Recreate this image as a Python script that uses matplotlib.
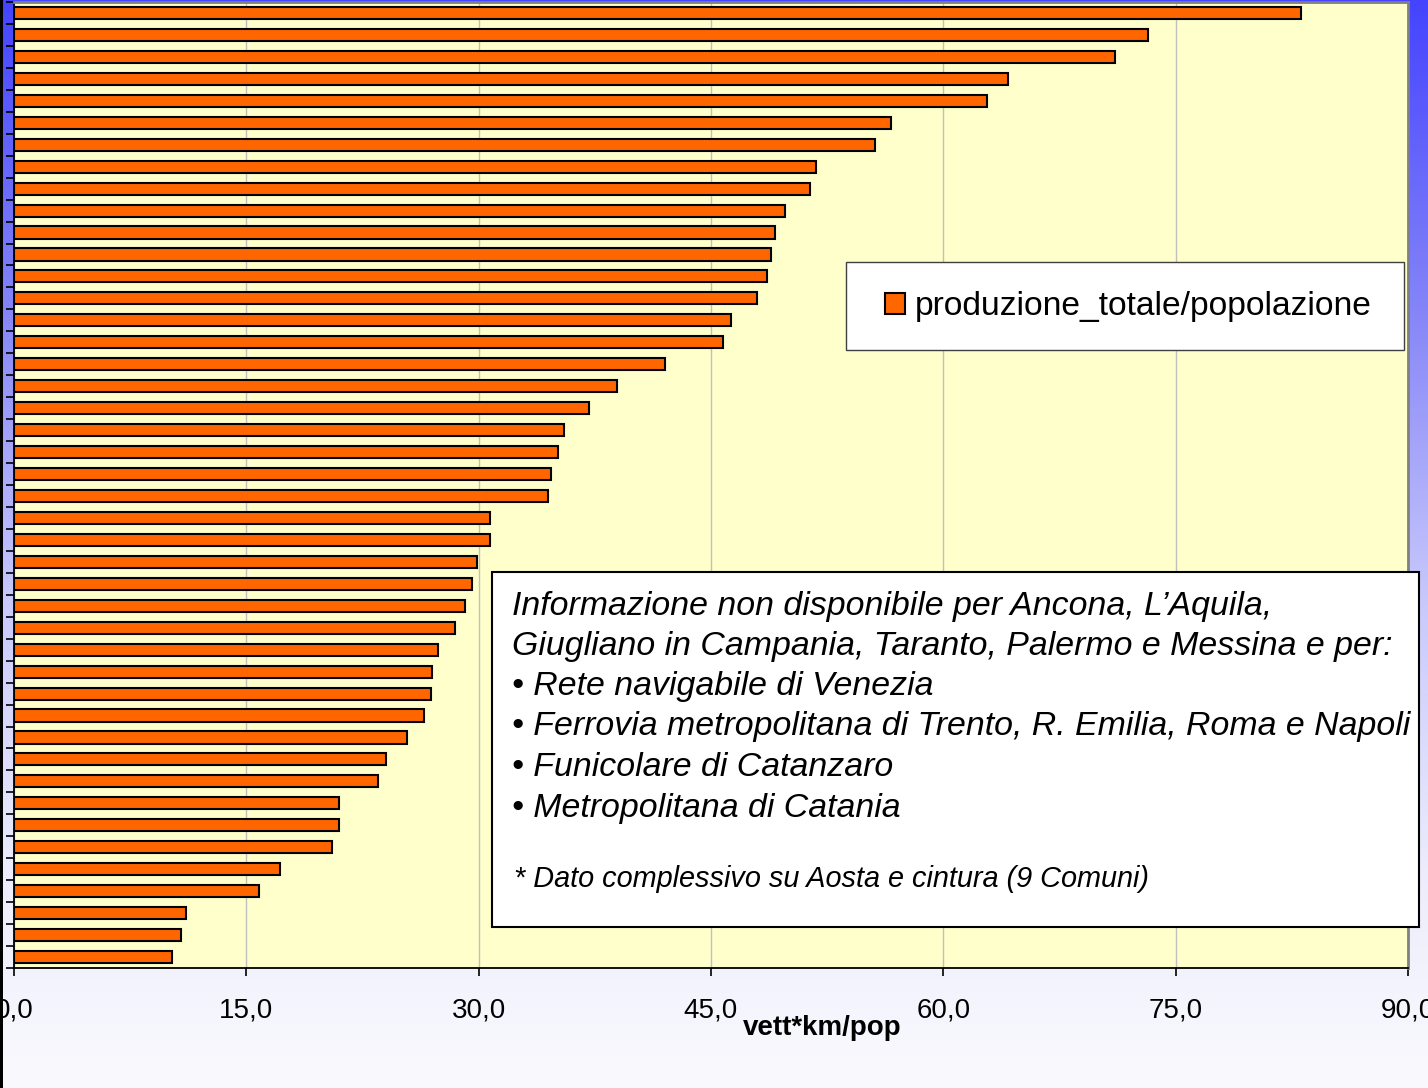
import numpy as np
import matplotlib
matplotlib.use('Agg')
import matplotlib.pyplot as plt
from matplotlib.patches import Rectangle

plt.rcParams['font.family'] = ['Liberation Sans', 'DejaVu Sans']

# Data: one bar per city (names are cut off in the reference), sorted descending
cities = [f"città {i + 1}" for i in range(44)]
values = [83.1, 73.2, 71.1, 64.2, 62.8, 56.6, 55.6, 51.8, 51.4, 49.8,
          49.1, 48.9, 48.6, 48.0, 46.3, 45.8, 42.0, 38.9, 37.1, 35.5,
          35.1, 34.7, 34.5, 30.7, 30.7, 29.9, 29.6, 29.1, 28.5, 27.4,
          27.0, 26.9, 26.5, 25.4, 24.0, 23.5, 21.0, 21.0, 20.5, 17.2,
          15.8, 11.1, 10.8, 10.2]
series_name = 'produzione_totale/popolazione'
xticks = [0, 15, 30, 45, 60, 75, 90]
xticklabels = [f"{t:.1f}".replace('.', ',') for t in xticks]

note_lines = [
    "Informazione non disponibile per Ancona, L\u2019Aquila,",
    "Giugliano in Campania, Taranto, Palermo e Messina e per:",
    "\u2022 Rete navigabile di Venezia",
    "\u2022 Ferrovia metropolitana di Trento, R. Emilia, Roma e Napoli",
    "\u2022 Funicolare di Catanzaro",
    "\u2022 Metropolitana di Catania",
]
footnote = "* Dato complessivo su Aosta e cintura (9 Comuni)"

W, H = 1428, 1088
fig = plt.figure(figsize=(W / 100, H / 100), dpi=100)

# slide background: blue-to-white vertical gradient
stops = np.array([0.0, 0.28, 0.55, 0.8, 1.0])
cols = np.array([[0x44, 0x44, 0xFF], [0x84, 0x84, 0xF8], [0xC8, 0xC8, 0xFC],
                 [0xEC, 0xEC, 0xFC], [0xFA, 0xFA, 0xFE]]) / 255.0
t = np.linspace(0, 1, 400)
grad = np.stack([np.interp(t, stops, cols[:, k]) for k in range(3)], axis=-1)[:, None, :]
bg = fig.add_axes([0, 0, 1, 1], zorder=-5)
bg.imshow(grad, aspect='auto', extent=[0, 1, 0, 1])
bg.axis('off')


def fx(px):
    return px / W


def fy(py):
    return 1 - py / H


ax = fig.add_axes([fx(14), fy(968), fx(1394), 966 / H])
ax.set_facecolor('#FFFFCC')

pos = np.arange(len(values))
ax.barh(pos, values, height=0.55, color='#FF6600', edgecolor='black',
        linewidth=1.5, label=series_name, zorder=3)
ax.set_ylim(len(values) - 0.5, -0.5)
ax.set_xlim(0, 90)

ax.set_xticks(xticks)
ax.set_xticklabels(xticklabels, fontsize=20)
ax.set_yticks(np.arange(len(values) + 1) - 0.5)
ax.set_yticklabels([])
ax.tick_params(axis='both', direction='out', length=6, width=1.2, color='black')
ax.tick_params(axis='x', pad=15)
ax.xaxis.grid(True, color='#C0C0C0', linewidth=1.0, zorder=0)
ax.set_axisbelow(True)

for s in ['left', 'bottom']:
    ax.spines[s].set_color('black')
    ax.spines[s].set_linewidth(1.3)
for s in ['top', 'right']:
    ax.spines[s].set_color('#808080')
    ax.spines[s].set_linewidth(2)

ax.set_xlabel('vett*km/pop', fontsize=20, fontweight='bold', va='top')
ax.xaxis.set_label_coords((822 - 14) / 1394, (968 - 1015) / 966)

# legend with its own frame
fig.patches.append(Rectangle((fx(846), fy(350)), 558 / W, 88 / H,
                             transform=fig.transFigure, facecolor='white',
                             edgecolor='#404040', linewidth=1.0, zorder=5))
handles, labels = ax.get_legend_handles_labels()
leg = fig.legend(handles, labels, frameon=False, loc='center left',
                 bbox_to_anchor=(fx(885), fy(307)), bbox_transform=fig.transFigure,
                 borderpad=0, borderaxespad=0, handlelength=0.6,
                 handleheight=0.6, handletextpad=0.3, fontsize=24.2)
leg.set_zorder(6)

# note box
fig.patches.append(Rectangle((fx(492), fy(927)), 927 / W, 355 / H,
                             transform=fig.transFigure, facecolor='white',
                             edgecolor='black', linewidth=1.5, zorder=5))
line_y = [606, 646, 687, 727, 768, 809]
for txt, yy in zip(note_lines, line_y):
    fig.text(fx(512), fy(yy), txt, fontsize=24.4, style='italic',
             va='center', ha='left', zorder=6)
fig.text(fx(514), fy(879), footnote, fontsize=20.8, style='italic',
         va='center', ha='left', zorder=6)

# black strip at the left edge
fig.patches.append(Rectangle((0, 0), 3 / W, 1, transform=fig.transFigure,
                             facecolor='black', edgecolor='none', zorder=10))

fig.savefig('out.png', dpi=100)
